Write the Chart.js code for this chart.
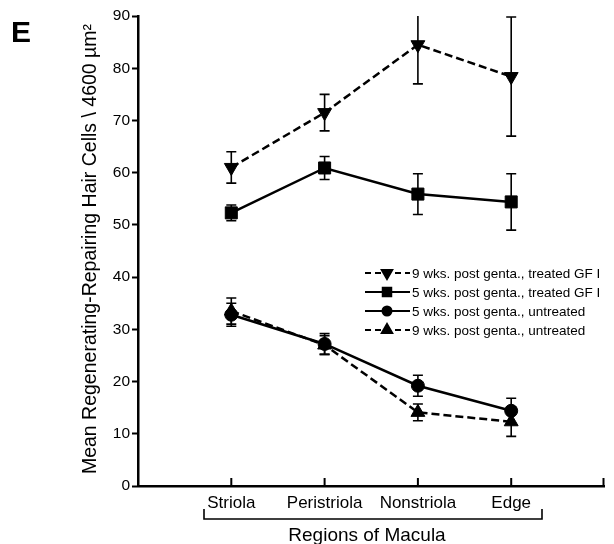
<!DOCTYPE html>
<html>
<head>
<meta charset="utf-8">
<script src="https://cdn.jsdelivr.net/npm/chart.js@4/dist/chart.umd.min.js"></script>
<style>
  html, body { margin: 0; background: #fff; }
  #wrap { width: 614px; height: 544px; }
</style>
</head>
<body>
<div id="wrap"><canvas id="c" width="614" height="544"></canvas></div>
<script>
/* datos */
const regiones = ['Striola', 'Peristriola', 'Nonstriola', 'Edge'];
const yTicks = [0, 10, 20, 30, 40, 50, 60, 70, 80, 90];

const etiquetas = [
  '9 wks. post genta., treated GF I',
  '5 wks. post genta., treated GF I',
  '5 wks. post genta., untreated',
  '9 wks. post genta., untreated',
];
const s9Trat = [61.0, 71.5, 84.5, 78.4];
const e9Trat = [3.0, 3.5, 7.5, 11.4];
const s5Trat = [52.3, 60.9, 55.9, 54.4];
const e5Trat = [1.5, 2.2, 3.9, 5.4];
const s5Sin  = [32.8, 27.2, 19.2, 14.4];
const e5Sin  = [2.2, 2.0, 2.0, 2.4];
const s9Sin  = [33.5, 27.0, 14.1, 12.3];
const e9Sin  = [2.5, 1.8, 1.6, 2.8];

const FONT = '"Liberation Sans", Arial, sans-serif';
const pts = serie => serie.map((v, i) => ({ x: i + 1, y: v }));

const ds = (label, serie, err, style, rot, radius, legR, dash) => ({
  label, data: pts(serie), err, legR,
  borderColor: '#000', backgroundColor: '#000', borderWidth: 2.5,
  borderDash: dash ? [8, 4] : [],
  pointStyle: style, rotation: rot, pointRadius: radius,
  pointBackgroundColor: '#000', pointBorderColor: '#000', pointBorderWidth: 1,
  tension: 0, clip: false,
});

/* barras de error, leyenda y rótulos sueltos */
const extras = {
  id: 'extras',
  beforeDatasetsDraw(chart) {
    const { ctx, chartArea: ca } = chart;
    const y = chart.scales.y;
    ctx.save();
    ctx.strokeStyle = '#000'; ctx.lineWidth = 1.6; ctx.setLineDash([]);
    chart.data.datasets.forEach((d, di) => {
      chart.getDatasetMeta(di).data.forEach((el, i) => {
        const v = d.data[i].y, e = d.err[i];
        const top = y.getPixelForValue(v + e), bot = y.getPixelForValue(v - e);
        const t = Math.max(top, ca.top);
        ctx.beginPath(); ctx.moveTo(el.x, t); ctx.lineTo(el.x, bot);
        if (top >= ca.top) { ctx.moveTo(el.x - 5, top); ctx.lineTo(el.x + 5, top); }
        ctx.moveTo(el.x - 5, bot); ctx.lineTo(el.x + 5, bot);
        ctx.stroke();
      });
    });
    ctx.restore();
  },
  afterDraw(chart) {
    const { ctx, chartArea: ca } = chart;
    const x = chart.scales.x;
    ctx.save();
    ctx.fillStyle = '#000'; ctx.strokeStyle = '#000';

    // marcas del eje x hacia dentro
    ctx.lineWidth = 2;
    [1, 2, 3, 4, 5].forEach(v => {
      const px = Math.min(x.getPixelForValue(v), ca.right - 1);
      ctx.beginPath(); ctx.moveTo(px, ca.bottom); ctx.lineTo(px, ca.bottom - 8); ctx.stroke();
    });

    // corchete y título del eje x
    ctx.lineWidth = 1.6;
    ctx.beginPath();
    ctx.moveTo(204, 509); ctx.lineTo(204, 519); ctx.lineTo(542, 519); ctx.lineTo(542, 509);
    ctx.stroke();
    ctx.font = '19px ' + FONT; ctx.textAlign = 'center'; ctx.textBaseline = 'middle';
    ctx.fillText('Regions of Macula', 367, 536);

    // título del eje y
    ctx.save();
    ctx.translate(91, 249); ctx.rotate(-Math.PI / 2);
    ctx.font = '19.5px ' + FONT;
    ctx.fillText('Mean Regenerating-Repairing Hair Cells \\ 4600 µm²', 0, 0);
    ctx.restore();

    // letra del panel
    ctx.font = 'bold 30px ' + FONT; ctx.textAlign = 'left'; ctx.textBaseline = 'alphabetic';
    ctx.fillText('E', 11, 42);

    // leyenda
    chart.data.datasets.forEach((d, k) => {
      const yy = 273 + k * 19;
      ctx.lineWidth = 2; ctx.setLineDash(d.borderDash.length ? [6, 4] : []);
      ctx.beginPath(); ctx.moveTo(365, yy); ctx.lineTo(410, yy); ctx.stroke();
      ctx.setLineDash([]);
      Chart.helpers.drawPoint(ctx, { pointStyle: d.pointStyle, rotation: d.rotation, radius: d.legR, borderWidth: 1 }, 387, yy);
      ctx.fill();
      ctx.font = '13.5px ' + FONT; ctx.textBaseline = 'middle';
      ctx.fillText(d.label, 412, yy + 1);
    });
    ctx.restore();
  },
};

new Chart(document.getElementById('c'), {
  type: 'line',
  data: {
    datasets: [
      ds(etiquetas[0], s9Trat, e9Trat, 'triangle', 180, 8, 6, true),
      ds(etiquetas[1], s5Trat, e5Trat, 'rect', 0, 8.5, 6, false),
      ds(etiquetas[2], s5Sin, e5Sin, 'circle', 0, 6.5, 4.5, false),
      ds(etiquetas[3], s9Sin, e9Sin, 'triangle', 0, 8, 6, true),
    ],
  },
  options: {
    responsive: false, animation: false, events: [],
    layout: { padding: { top: 16, right: 1, left: 0, bottom: 0 } },
    plugins: { legend: { display: false }, tooltip: { enabled: false } },
    scales: {
      x: {
        type: 'linear', min: 0, max: 5,
        afterBuildTicks: s => { s.ticks = regiones.map((_, i) => ({ value: i + 1 })); },
        afterFit: s => { s.height = 58; },
        ticks: { color: '#000', padding: 7, font: { family: FONT, size: 17 }, callback: v => regiones[v - 1] || '' },
        grid: { display: false, drawTicks: false },
        border: { color: '#000', width: 2.5 },
      },
      y: {
        min: 0, max: 90,
        afterBuildTicks: s => { s.ticks = yTicks.map(v => ({ value: v })); },
        afterFit: s => { s.width = 138; },
        ticks: { color: '#000', padding: 2, font: { family: FONT, size: 15.5 } },
        grid: { drawOnChartArea: false, drawTicks: true, tickLength: 6, tickWidth: 2, color: '#000' },
        border: { color: '#000', width: 2.5 },
      },
    },
  },
  plugins: [extras],
});
</script>
</body>
</html>
